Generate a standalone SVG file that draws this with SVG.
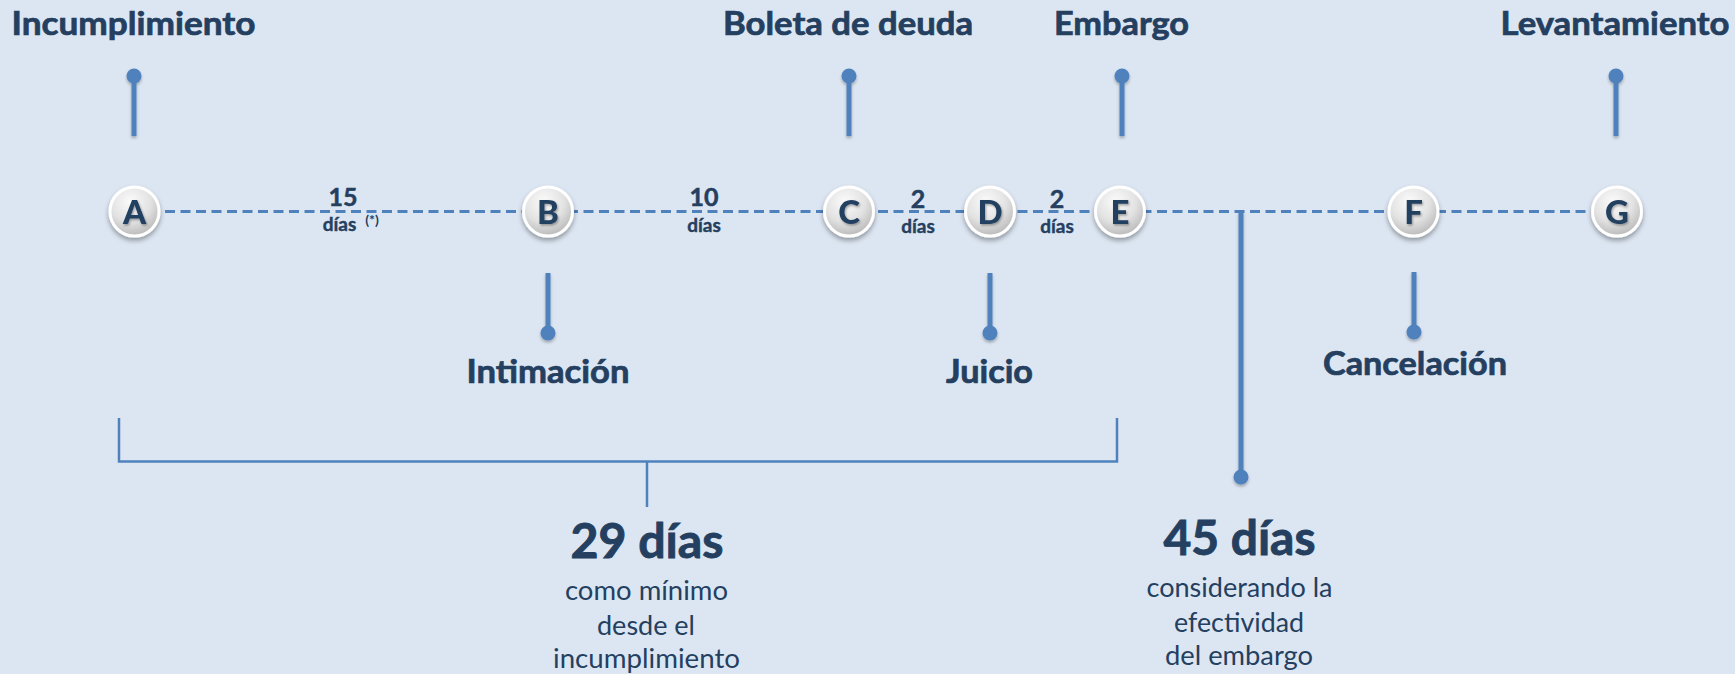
<svg xmlns="http://www.w3.org/2000/svg" width="1735" height="674" viewBox="0 0 1735 674">
<style>
.t{font-family:Lato,"Open Sans","Liberation Sans",sans-serif;fill:#243f60;text-anchor:middle}
.title{font-size:32px;font-weight:700;stroke:#243f60;stroke-width:0.7}
.small{font-size:25px;font-weight:700;stroke:#243f60;stroke-width:0.5}
.dias{font-size:19px;font-weight:700;stroke:#243f60;stroke-width:0.4}
.sup{font-size:14px;font-weight:700}
.big{font-size:47px;font-weight:700;stroke:#243f60;stroke-width:0.9}
.sub{font-size:26px;font-weight:400}
.let{font-size:33px;font-weight:900;filter:url(#tsh)}
.ball{fill:url(#ball);stroke:#ffffff;stroke-width:3;filter:url(#sh)}
.pin{stroke:#4f81bd;stroke-width:5;fill:none}
.dot{fill:#4f81bd}
.pg{filter:url(#psh)}
.dash{stroke:#4f81bd;stroke-width:3;stroke-dasharray:10 5.5;fill:none}
.br{stroke:#4f81bd;stroke-width:2.5;fill:none}
</style>
<defs>
<radialGradient id="ball" cx="42%" cy="30%" r="75%">
<stop offset="0" stop-color="#fbfbfb"/>
<stop offset="0.55" stop-color="#e2e2e2"/>
<stop offset="1" stop-color="#b4b4b4"/>
</radialGradient>
<filter id="sh" x="-40%" y="-40%" width="180%" height="190%">
<feDropShadow dx="0" dy="3" stdDeviation="2.5" flood-color="#000" flood-opacity="0.35"/>
</filter>
<filter id="tsh" x="-30%" y="-30%" width="160%" height="160%">
<feDropShadow dx="1" dy="1.5" stdDeviation="0.8" flood-color="#000" flood-opacity="0.35"/>
</filter>
<filter id="psh" x="-200%" y="-20%" width="500%" height="140%">
<feDropShadow dx="0" dy="2" stdDeviation="1.5" flood-color="#000" flood-opacity="0.3"/>
</filter>
</defs>
<rect width="1735" height="674" fill="#dce6f2"/>

<g id="connectors">
<line class="dash" x1="134" y1="211.5" x2="1617" y2="211.5"/>
<g class="pg">
<line class="pin" x1="1241" y1="211.5" x2="1241" y2="477"/>
<circle class="dot" cx="1241" cy="477" r="7.5"/>
</g>
<path class="br" d="M119 418 V461.5 H1117 V418"/>
<line class="br" x1="647" y1="461.5" x2="647" y2="507"/>
</g>

<g id="labels-days">
<text class="t small" x="343" y="206">15</text>
<text class="t dias" x="339.5" y="231">días</text>
<text class="t sup" x="372" y="225">(*)</text>
<text class="t small" x="704" y="206">10</text>
<text class="t dias" x="704" y="232">días</text>
<text class="t small" x="918" y="208">2</text>
<text class="t dias" x="918" y="233">días</text>
<text class="t small" x="1057" y="208">2</text>
<text class="t dias" x="1057" y="233">días</text>
</g>

<g id="node-A">
<g class="pg"><line class="pin" x1="134" y1="76" x2="134" y2="136"/><circle class="dot" cx="134" cy="76" r="7.5"/></g>
<text class="t title" x="133.5" y="35" textLength="244" lengthAdjust="spacingAndGlyphs">Incumplimiento</text>
<circle class="ball" cx="134.5" cy="211.5" r="24.5"/>
<text class="t let" x="134.5" y="223.5">A</text>
</g>

<g id="node-B">
<g class="pg"><line class="pin" x1="548" y1="273" x2="548" y2="333"/><circle class="dot" cx="548" cy="333" r="7.5"/></g>
<text class="t title" x="548" y="383" textLength="163" lengthAdjust="spacingAndGlyphs">Intimación</text>
<circle class="ball" cx="548" cy="211.5" r="24.5"/>
<text class="t let" x="548" y="223.5">B</text>
</g>

<g id="node-C">
<g class="pg"><line class="pin" x1="849" y1="76" x2="849" y2="136"/><circle class="dot" cx="849" cy="76" r="7.5"/></g>
<text class="t title" x="848" y="35" textLength="250" lengthAdjust="spacingAndGlyphs">Boleta de deuda</text>
<circle class="ball" cx="849" cy="211.5" r="24.5"/>
<text class="t let" x="849" y="223.5">C</text>
</g>

<g id="node-D">
<g class="pg"><line class="pin" x1="990" y1="273" x2="990" y2="333"/><circle class="dot" cx="990" cy="333" r="7.5"/></g>
<text class="t title" x="989.5" y="383" textLength="87" lengthAdjust="spacingAndGlyphs">Juicio</text>
<circle class="ball" cx="990" cy="211.5" r="24.5"/>
<text class="t let" x="990" y="223.5">D</text>
</g>

<g id="node-E">
<g class="pg"><line class="pin" x1="1122" y1="76" x2="1122" y2="136"/><circle class="dot" cx="1122" cy="76" r="7.5"/></g>
<text class="t title" x="1121.5" y="35" textLength="135" lengthAdjust="spacingAndGlyphs">Embargo</text>
<circle class="ball" cx="1120" cy="211.5" r="24.5"/>
<text class="t let" x="1120" y="223.5">E</text>
</g>

<g id="node-F">
<g class="pg"><line class="pin" x1="1414" y1="272" x2="1414" y2="332"/><circle class="dot" cx="1414" cy="332" r="7.5"/></g>
<text class="t title" x="1415" y="375" textLength="184" lengthAdjust="spacingAndGlyphs">Cancelación</text>
<circle class="ball" cx="1413.5" cy="211.5" r="24.5"/>
<text class="t let" x="1413.5" y="223.5">F</text>
</g>

<g id="node-G">
<g class="pg"><line class="pin" x1="1616" y1="76" x2="1616" y2="136"/><circle class="dot" cx="1616" cy="76" r="7.5"/></g>
<text class="t title" x="1615" y="35" textLength="229" lengthAdjust="spacingAndGlyphs">Levantamiento</text>
<circle class="ball" cx="1617" cy="211.5" r="24.5"/>
<text class="t let" x="1617" y="223.5">G</text>
</g>

<g id="summary-29">
<text class="t big" x="647" y="558" textLength="153" lengthAdjust="spacingAndGlyphs">29 días</text>
<text class="t sub" x="646.5" y="600" textLength="163" lengthAdjust="spacingAndGlyphs">como mínimo</text>
<text class="t sub" x="646" y="635" textLength="98" lengthAdjust="spacingAndGlyphs">desde el</text>
<text class="t sub" x="646.5" y="668" textLength="187" lengthAdjust="spacingAndGlyphs">incumplimiento</text>
</g>

<g id="summary-45">
<text class="t big" x="1239.5" y="555" textLength="152" lengthAdjust="spacingAndGlyphs">45 días</text>
<text class="t sub" x="1239.5" y="597" textLength="186" lengthAdjust="spacingAndGlyphs">considerando la</text>
<text class="t sub" x="1239" y="632" textLength="130" lengthAdjust="spacingAndGlyphs">efectividad</text>
<text class="t sub" x="1239" y="665" textLength="148" lengthAdjust="spacingAndGlyphs">del embargo</text>
</g>
</svg>
